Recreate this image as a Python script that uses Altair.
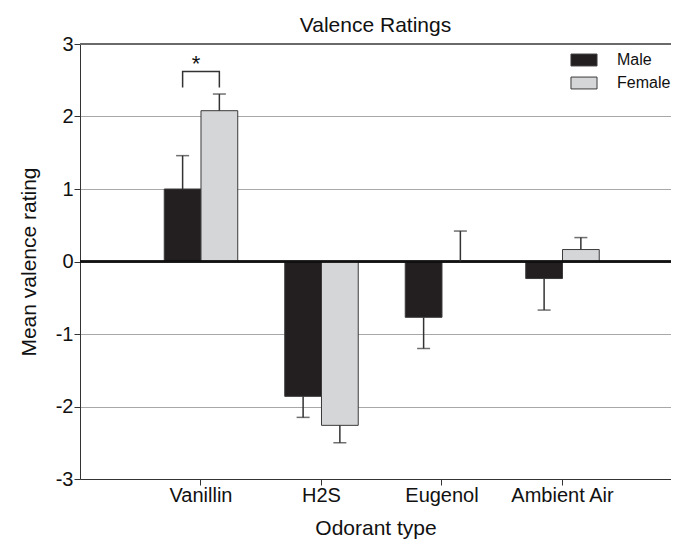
import altair as alt
import pandas as pd

odorants = ["Vanillin", "H2S", "Eugenol", "Ambient Air"]
sexes = ["Male", "Female"]
male_mean = [1.00, -1.86, -0.77, -0.235]
female_mean = [2.08, -2.26, 0.0, 0.165]
male_err_end = [1.46, -2.15, -1.20, -0.67]
female_err_end = [2.31, -2.50, 0.42, 0.33]
bracket_sex = ["Male", "Male", "Female", "Female"]
bracket_y = [2.40, 2.62, 2.62, 2.40]
star_y = [2.63]

FONT = "Liberation Sans"

rows = []
for i, o in enumerate(odorants):
    rows.append({"Odorant": o, "Sex": "Male", "mean": male_mean[i], "end": male_err_end[i]})
    rows.append({"Odorant": o, "Sex": "Female", "mean": female_mean[i], "end": female_err_end[i]})
df = pd.DataFrame(rows)

br = pd.DataFrame({"Odorant": ["Vanillin"] * 4, "Sex": bracket_sex, "y": bracket_y,
                   "order": list(range(4))})
st = pd.DataFrame({"Odorant": ["Vanillin"], "y": star_y})

xenc = alt.X("Odorant:N", sort=odorants,
             scale=alt.Scale(paddingInner=0.39, paddingOuter=0.6473, align=0.54),
             axis=alt.Axis(title="Odorant type", labelAngle=0, labelFontSize=20,
                           titleFontSize=21, labelPadding=0, titlePadding=12,
                           tickSize=6, domainColor="#333", tickColor="#333",
                           labelColor="#111", titleColor="#111", titleFontWeight="normal",
                           labelFont=FONT, titleFont=FONT, grid=False))
xoff = alt.XOffset("Sex:N", sort=sexes, scale=alt.Scale(paddingInner=0, paddingOuter=0))
yscale = alt.Scale(domain=[-3, 3], nice=False)
yenc = alt.Y("mean:Q", scale=yscale,
             axis=alt.Axis(title="Mean valence rating", values=[-3, -2, -1, 0, 1, 2, 3],
                           labelExpr="'' + datum.value", labelFontSize=20,
                           titleFontSize=21, tickSize=6,
                           labelPadding=1, titlePadding=16, domainColor="#333",
                           tickColor="#333", grid=True, gridColor="#a8a8a8",
                           gridWidth=1, labelColor="#111", titleColor="#111",
                           titleFontWeight="normal", labelFont=FONT, titleFont=FONT))

base = alt.Chart(df)

bars = base.mark_bar(stroke="#3a3a3a", strokeWidth=1).encode(
    x=xenc, xOffset=xoff, y=yenc,
    color=alt.Color("Sex:N", sort=sexes,
                    scale=alt.Scale(domain=sexes, range=["#231f20", "#d5d6d8"]),
                    legend=alt.Legend(title=None, orient="none", legendX=496, legendY=8,
                                      symbolType="M-1.86,-0.85H1.86V0.85H-1.86Z",
                                      symbolSize=196, symbolStrokeColor="#3a3a3a",
                                      symbolStrokeWidth=1, labelFontSize=16,
                                      labelFont=FONT, labelOffset=25, rowPadding=7,
                                      labelColor="#111")),
)

err = base.mark_rule(color="#333", strokeWidth=1.5).encode(
    x=xenc, xOffset=xoff, y=alt.Y("mean:Q", scale=yscale), y2="end:Q")
caps = base.mark_tick(color="#333", thickness=1.5, size=13, orient="horizontal").encode(
    x=xenc, xOffset=xoff, y=alt.Y("end:Q", scale=yscale))

zero = alt.Chart(df).mark_rule(color="#111", strokeWidth=1.5).encode(y=alt.datum(0, scale=yscale))
top = alt.Chart(df).mark_rule(color="#6a6a6a", strokeWidth=2).encode(y=alt.datum(3, scale=yscale))

bracket = alt.Chart(br).mark_line(color="#333", strokeWidth=1.5).encode(
    x=xenc, xOffset=xoff, y=alt.Y("y:Q", scale=yscale), order="order:Q")
star = alt.Chart(st).mark_text(text="*", fontSize=22, font=FONT, dx=-5,
                               baseline="alphabetic", color="#111").encode(
    x=xenc, y=alt.Y("y:Q", scale=yscale))

chart = alt.layer(bars, zero, top, err, caps, bracket, star).properties(
    width=591, height=435,
    title=alt.TitleParams("Valence Ratings", fontSize=21, font=FONT, fontWeight="normal",
                          anchor="middle", frame="group", offset=-2, color="#111"),
    autosize=alt.AutoSizeParams(type="none"),
    padding={"left": 72, "top": 36, "right": 0, "bottom": 62},
).configure_view(stroke=None)

chart.save("out.html", embed_options={"renderer": "svg", "actions": False})
